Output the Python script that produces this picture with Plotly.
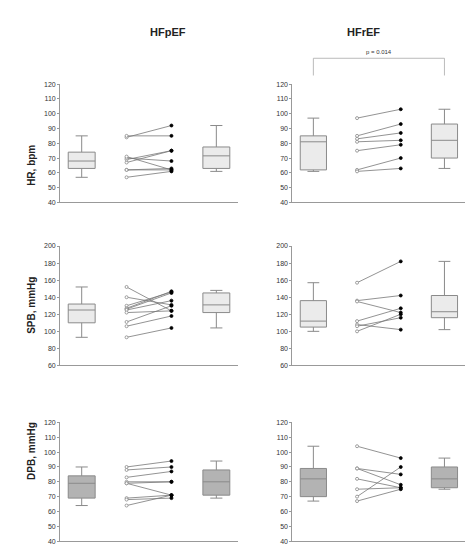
import plotly.graph_objects as go

# ---- data ----
hr_pef_pre = [57, 62, 62, 67, 69, 70, 71, 84, 85]
hr_pef_post = [61, 62, 63, 75, 75, 68, 62, 92, 85]
hr_ref_pre = [97, 85, 83, 81, 75, 62, 61]
hr_ref_post = [103, 93, 87, 82, 79, 70, 63]

sbp_pef_pre = [152, 140, 130, 127, 126, 125, 122, 111, 106, 93]
sbp_pef_post = [124, 131, 146, 147, 145, 136, 124, 130, 118, 104]
sbp_ref_pre = [157, 136, 135, 112, 108, 106, 100]
sbp_ref_post = [182, 142, 122, 127, 102, 116, 120]

dbp_pef_pre = [90, 88, 83, 80, 79, 79, 69, 68, 64]
dbp_pef_post = [94, 90, 87, 80, 71, 80, 71, 69, 71]
dbp_ref_pre = [104, 89, 89, 82, 75, 70, 67]
dbp_ref_post = [96, 85, 78, 76, 76, 90, 75]

# box stats: lower whisker, q1, median, q3, upper whisker
box_stats = {
    "hr_pef": [(57, 63, 68, 74, 85), (61, 63, 71.5, 77.5, 92)],
    "hr_ref": [(61, 62, 81, 85, 97), (63, 70, 82, 93, 103)],
    "sbp_pef": [(93, 110, 125, 132, 152), (104, 122, 131, 145, 148)],
    "sbp_ref": [(100, 105, 112, 136, 157), (102, 116, 123, 142, 182)],
    "dbp_pef": [(64, 69, 79, 84, 90), (69, 71, 80, 88, 94)],
    "dbp_ref": [(67, 70, 82, 89, 104), (75, 76, 82, 90, 96)],
}

panels = [
    ("hr_pef", hr_pef_pre, hr_pef_post, 1, 1, [40, 120], 10),
    ("hr_ref", hr_ref_pre, hr_ref_post, 1, 2, [40, 120], 10),
    ("sbp_pef", sbp_pef_pre, sbp_pef_post, 2, 1, [60, 200], 20),
    ("sbp_ref", sbp_ref_pre, sbp_ref_post, 2, 2, [60, 200], 20),
    ("dbp_pef", dbp_pef_pre, dbp_pef_post, 3, 1, [40, 120], 10),
    ("dbp_ref", dbp_ref_pre, dbp_ref_post, 3, 2, [40, 120], 10),
]
row_labels = ["HR, bpm", "SPB, mmHg", "DPB, mmHg"]

xdom = {1: [0.11, 0.485], 2: [0.60, 0.965]}
ydom = {1: [0.646, 0.866], 2: [0.343, 0.565], 3: [0.0165, 0.237]}

fig = go.Figure()
layout = {}
for i, (key, pre, post, r, c, yr, dt) in enumerate(panels):
    n = "" if i == 0 else str(i + 1)
    xa, ya = "x" + n, "y" + n
    fill = "#b3b3b3" if r == 3 else "#ebebeb"
    for pos, st in zip([0, 3], box_stats[key]):
        lo, q1, med, q3, hi = st
        fig.add_trace(go.Box(x=[pos], lowerfence=[lo], q1=[q1], median=[med], q3=[q3],
                             upperfence=[hi], width=0.6, whiskerwidth=0.45,
                             fillcolor=fill, line=dict(color="#8a8a8a", width=1),
                             xaxis=xa, yaxis=ya, showlegend=False, hoverinfo="skip"))
    for a, b in zip(pre, post):
        fig.add_trace(go.Scatter(x=[1, 2], y=[a, b], mode="lines+markers",
                                 line=dict(color="#777777", width=0.8),
                                 marker=dict(size=3, color=["white", "black"],
                                             symbol="circle",
                                             line=dict(color=["#888888", "black"], width=0.8)),
                                 xaxis=xa, yaxis=ya, showlegend=False, hoverinfo="skip"))
    layout["xaxis" + n] = dict(domain=xdom[c], range=[-0.48, 3.48], showticklabels=False,
                               showgrid=False, zeroline=False, showline=True,
                               linecolor="#999999", linewidth=1, ticks="", anchor=ya)
    layout["yaxis" + n] = dict(domain=ydom[r], range=yr, dtick=dt, showgrid=False,
                               zeroline=False, showline=True, linecolor="#999999",
                               linewidth=1, ticks="outside", ticklen=2, tickcolor="#999999",
                               tickfont=dict(size=7, color="#333333"), anchor=xa)

fig.update_layout(**layout)

# p-value bracket on HFrEF HR panel
fig.add_shape(type="line", xref="x2", yref="paper", x0=0, x1=0, y0=0.882, y1=0.914,
              line=dict(color="#aaaaaa", width=0.8))
fig.add_shape(type="line", xref="x2", yref="paper", x0=3, x1=3, y0=0.882, y1=0.914,
              line=dict(color="#aaaaaa", width=0.8))
fig.add_shape(type="line", xref="x2", yref="paper", x0=0, x1=3, y0=0.914, y1=0.914,
              line=dict(color="#aaaaaa", width=0.8))
fig.add_annotation(text="p = 0.014", xref="x2", yref="paper", x=1.5, y=0.916,
                   showarrow=False, yanchor="bottom", font=dict(size=6, color="#333333"))

for txt, x in [("HFpEF", 0.295), ("HFrEF", 0.79)]:
    fig.add_annotation(text="<b>" + txt + "</b>", xref="paper", yref="paper", x=x, y=0.978,
                       showarrow=False, font=dict(size=11, color="#222222"))
for lbl, r in zip(row_labels, [1, 2, 3]):
    fig.add_annotation(text="<b>" + lbl + "</b>", xref="paper", yref="paper", x=0.035,
                       y=sum(ydom[r]) / 2, textangle=-90, showarrow=False,
                       font=dict(size=10, color="#222222"))

fig.update_layout(width=474, height=545, margin=dict(l=0, r=0, t=0, b=0),
                  plot_bgcolor="white", paper_bgcolor="white",
                  font=dict(family="Liberation Sans, Arial, sans-serif"))

fig.write_html("out.html")
